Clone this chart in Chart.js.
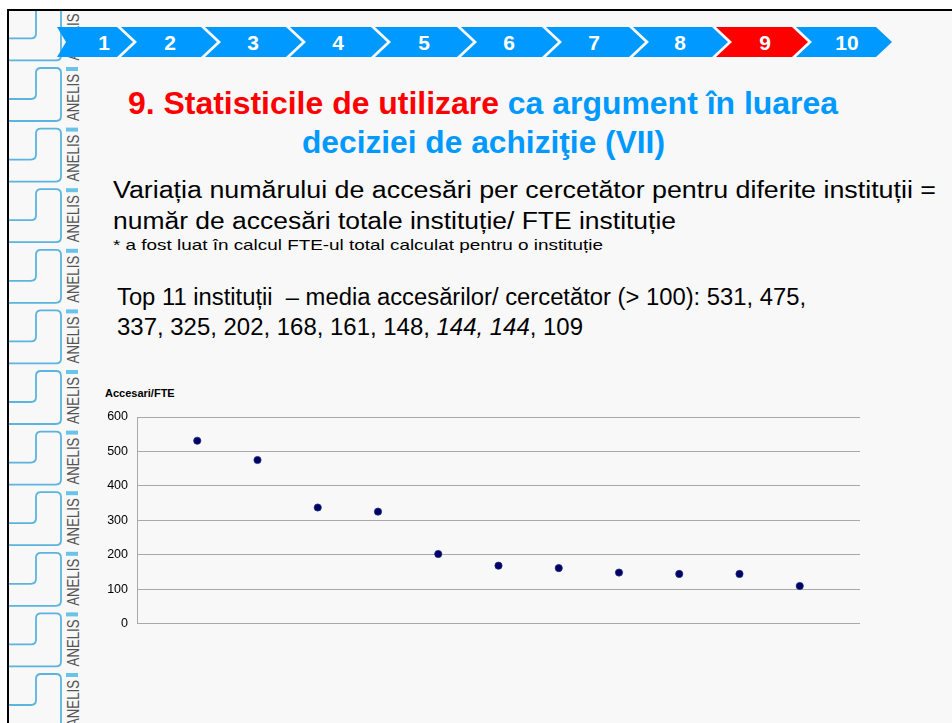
<!DOCTYPE html>
<html>
<head>
<meta charset="utf-8">
<script src="https://cdn.jsdelivr.net/npm/chart.js@4.4.0/dist/chart.umd.min.js"></script>
<style>
  body { margin: 0; background: #fff; }
  #slide { position: relative; width: 952px; height: 723px; overflow: hidden; background: #fff;
           font-family: "Liberation Sans", Arial, sans-serif; }
  #bg { position: absolute; left: 7px; top: 9px; right: -2px; bottom: -2px; background: #f8f8f8;
        border-left: 2px solid #000; border-top: 2px solid #000; }
  #deco { position: absolute; left: 0; top: 0; }
  .t { position: absolute; white-space: nowrap; transform-origin: 0 50%; color: #000; }
  .red { color: #ff0000; }
  .blue { color: #0099ff; }
  #chartBox { position: absolute; left: 90px; top: 400px; width: 790px; height: 240px; }
</style>
</head>
<body>
<div id="slide">
  <div id="bg"></div>
  <svg id="deco" width="952" height="723"></svg>

  <div class="t" data-x="128" data-w="710" data-y="104" style="font-weight:bold;font-size:31px;line-height:40px">
    <span class="red">9. Statisticile de utilizare</span> <span class="blue">ca argument în luarea</span></div>
  <div class="t blue" data-x="302" data-w="363" data-y="143" style="font-weight:bold;font-size:31px;line-height:40px">deciziei de achiziţie (VII)</div>

  <div class="t" data-x="113" data-w="823" data-y="190" style="font-size:23px;line-height:28px">Variația numărului de accesări per cercetător pentru diferite instituții =</div>
  <div class="t" data-x="113" data-w="563" data-y="221" style="font-size:23px;line-height:28px">număr de accesări totale instituție/ FTE instituție</div>
  <div class="t" data-x="113" data-w="490" data-y="245" style="font-size:15px;line-height:18px">* a fost luat în calcul FTE-ul total calculat pentru o instituție</div>

  <div class="t" data-x="117" data-w="689" data-y="297" style="font-size:23px;line-height:26px">Top 11 instituții &nbsp;– media accesărilor/ cercetător (&gt; 100): 531, 475,</div>
  <div class="t" data-x="117" data-w="466" data-y="327" style="font-size:23px;line-height:26px">337, 325, 202, 168, 161, 148, <i>144, 144</i>, 109</div>

  <div class="t" style="left:105px;top:386px;font-weight:bold;font-size:11px;line-height:14px">Accesari/FTE</div>

  <div id="chartBox"><canvas id="chart" width="790" height="240"></canvas></div>
</div>

<script>
// date din grafic: accesari per FTE, top 11 institutii
const institutii = [1, 2, 3, 4, 5, 6, 7, 8, 9, 10, 11];
const accesariFTE = [531, 475, 337, 325, 202, 168, 161, 148, 144, 144, 109];
const yMin = 0, yMax = 600, yStep = 100;

// bara de navigare de sus
const navNumere = ["1", "2", "3", "4", "5", "6", "7", "8", "9", "10"];
const navActiv = "9";

const svgNS = "http://www.w3.org/2000/svg";
const deco = document.getElementById("deco");
function el(tag, attrs, text, parent) {
  const e = document.createElementNS(svgNS, tag);
  for (const k in attrs) e.setAttribute(k, attrs[k]);
  if (text) e.textContent = text;
  (parent || deco).appendChild(e);
  return e;
}

// banda din stanga cu logo ANELIS
const clip = el("clipPath", { id: "c" });
el("rect", { x: 9, y: 11, width: 100, height: 720 }, null, clip);
const g = el("g", { "clip-path": "url(#c)" });
for (let k = -1; k < 12; k++) {
  const y0 = 68 + k * 60.6;
  el("path", {
    d: `M9 ${y0 + 31} L31 ${y0 + 31} Q36 ${y0 + 31} 36 ${y0 + 26} L36 ${y0 + 5} Q36 ${y0} 41 ${y0}
      L56 ${y0} Q61 ${y0} 61 ${y0 + 5} L61 ${y0 + 48} Q61 ${y0 + 53} 56 ${y0 + 53} L9 ${y0 + 53}`,
    fill: "none", stroke: "#5ab4de", "stroke-width": 1.8
  }, null, g);
  el("rect", { x: 66, y: y0 - 1, width: 12, height: 4, fill: "#6cc3ea" }, null, g);
  el("text", {
    transform: `translate(78.5 ${y0 + 53}) rotate(-90)`,
    "font-size": 17, "font-family": "Liberation Sans, Arial, sans-serif",
    fill: "#555", textLength: 47, lengthAdjust: "spacingAndGlyphs"
  }, "ANELIS", g);
}

// sageti numerotate
const navDreapta = [117, 201, 286, 371, 457, 542, 629, 712, 792, 876];
const navX = [104, 170, 253, 338, 424, 509, 594, 680, 765, 847];
navNumere.forEach((n, i) => {
  const R = navDreapta[i];
  const L = i === 0 ? 57 : navDreapta[i - 1] + 4;
  const d = i === 0 ? 9 : 16;
  el("polygon", {
    points: `${L},27 ${R},27 ${R + 16},42 ${R},57 ${L},57 ${L + d},42`,
    fill: n === navActiv ? "#ff0000" : "#0099ff"
  });
  el("text", {
    x: navX[i], y: 49.5, "text-anchor": "middle", fill: "#fff",
    "font-size": "21", "font-weight": "bold", "font-family": "Liberation Sans, Arial, sans-serif"
  }, n);
});

// potrivire latime randuri de text
function fitText() {
  document.querySelectorAll(".t[data-w]").forEach((t) => {
    t.style.left = t.dataset.x + "px";
    const h = t.getBoundingClientRect().height;
    t.style.top = (t.dataset.y - h / 2) + "px";
    const w = t.getBoundingClientRect().width;
    t.style.transform = `scaleX(${t.dataset.w / w})`;
  });
}

const ctx = document.getElementById("chart");
new Chart(ctx, {
  type: "scatter",
  data: {
    datasets: [{
      label: "Accesari/FTE",
      data: institutii.map((x, i) => ({ x: x, y: accesariFTE[i] })),
      pointRadius: 3.6,
      pointBackgroundColor: "#000066",
      pointBorderColor: "#1b2a7a",
      pointBorderWidth: 0.8,
      showLine: false
    }]
  },
  options: {
    responsive: false,
    animation: false,
    layout: { padding: { top: 17, right: 20, bottom: 15, left: 0 } },
    scales: {
      x: { type: "linear", min: 0, max: institutii.length + 1, display: false },
      y: {
        min: yMin,
        max: yMax,
        ticks: {
          stepSize: yStep,
          color: "#000",
          padding: 9,
          font: { size: 12.5, family: "Liberation Sans" }
        },
        grid: { color: "#a9a9a9", drawTicks: false },
        border: { display: true, color: "#a9a9a9" },
        afterFit: (s) => { s.width = 47; }
      }
    },
    plugins: {
      legend: { display: false },
      tooltip: { enabled: false }
    }
  }
});

if (document.fonts && document.fonts.ready) document.fonts.ready.then(fitText); else fitText();
</script>
</body>
</html>
